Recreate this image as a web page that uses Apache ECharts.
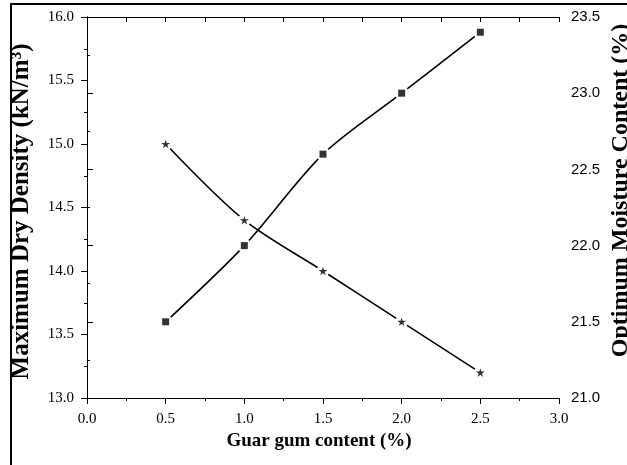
<!DOCTYPE html>
<html>
<head>
<meta charset="utf-8">
<script src="https://cdn.jsdelivr.net/npm/echarts@6/dist/echarts.min.js"></script>
<style>
html, body { margin: 0; padding: 0; background: #fff; }
#main { width: 627px; height: 465px; }
</style>
</head>
<body>
<div id="main"></div>
<script>
// data
var guarGum = [0.5, 1.0, 1.5, 2.0, 2.5];
var maxDryDensity = [15.0, 14.4, 14.0, 13.6, 13.2];   // left axis, stars
var optMoisture = [21.5, 22.0, 22.6, 23.0, 23.4];     // right axis, squares

var starPath = 'path://M0,-100L22.45,-30.9L95.1,-30.9L36.3,11.8L58.8,80.9L0,38.2L-58.8,80.9L-36.3,11.8L-95.1,-30.9L-22.45,-30.9Z';

function pairs(xs, ys) {
	return xs.map(function (x, i) { return [x, ys[i]]; });
}

var serif = '"Liberation Serif", "Times New Roman", serif';
var sans = '"Liberation Sans", Arial, sans-serif';
var fmt1 = function (v) { return v.toFixed(1); };

var chart = echarts.init(document.getElementById('main'));

var option = {
	backgroundColor: '#fff',
	animation: false,
	graphic: [{
		type: 'rect',
		shape: { x: 11, y: 4, width: 700, height: 600 },
		style: { fill: null, stroke: '#000', lineWidth: 2 },
		silent: true
	}],
	grid: { left: 87, right: 68, top: 17, bottom: 67, containLabel: false, outerBoundsMode: 'none' },
	xAxis: [{
		type: 'value',
		position: 'bottom',
		min: 0, max: 3, interval: 0.5,
		name: 'Guar gum content (%)',
		nameLocation: 'middle',
		nameGap: 33,
		nameTextStyle: { fontFamily: serif, fontWeight: 'bold', fontSize: 19, color: '#000', padding: [0, 8, 0, 0] },
		axisLine: { show: true, lineStyle: { color: '#000', width: 1 } },
		axisTick: { show: true, inside: false, length: 6, lineStyle: { color: '#000' } },
		minorTick: { show: true, splitNumber: 2, length: 3, lineStyle: { color: '#000' } },
		axisLabel: { fontFamily: serif, fontSize: 15, color: '#000', margin: 14, formatter: fmt1 },
		splitLine: { show: false }
	}, {
		type: 'value',
		position: 'top',
		min: 0, max: 3, interval: 0.5,
		axisLine: { show: true, lineStyle: { color: '#000', width: 1 } },
		axisTick: { show: true, inside: true, length: 5, lineStyle: { color: '#000' } },
		minorTick: { show: true, splitNumber: 2, length: 5, lineStyle: { color: '#000' } },
		axisLabel: { show: false },
		splitLine: { show: false }
	}],
	yAxis: [{
		type: 'value',
		position: 'left',
		min: 13, max: 16, interval: 0.5,
		name: 'Maximum Dry Density (kN/m³)',
		nameLocation: 'middle',
		nameGap: 53,
		nameTextStyle: { fontFamily: serif, fontWeight: 'bold', fontSize: 25, color: '#000', padding: [0, 8, 0, 0] },
		axisLine: { show: true, lineStyle: { color: '#000', width: 1 } },
		axisTick: { show: true, inside: false, length: 6, lineStyle: { color: '#000' } },
		minorTick: { show: true, splitNumber: 2, length: 3, lineStyle: { color: '#000' } },
		axisLabel: { fontFamily: serif, fontSize: 15, color: '#000', margin: 13, formatter: fmt1 },
		splitLine: { show: false }
	}, {
		type: 'value',
		position: 'right',
		min: 21, max: 23.5, interval: 0.5,
		name: 'Optimum Moisture Content (%)',
		nameLocation: 'middle',
		nameGap: 50,
		nameRotate: 90,
		nameMoveOverlap: false,
		nameTextStyle: { fontFamily: serif, fontWeight: 'bold', fontSize: 24, color: '#000', padding: [0, 0, 0, 34] },
		axisLine: { show: true, lineStyle: { color: '#000', width: 1 } },
		axisTick: { show: true, inside: false, length: 6, lineStyle: { color: '#000' } },
		minorTick: { show: true, splitNumber: 2, length: 3, lineStyle: { color: '#000' } },
		axisLabel: { fontFamily: sans, fontSize: 15, color: '#000', margin: 12, formatter: fmt1 },
		splitLine: { show: false }
	}],
	series: [
		{
			// density line; white dots under the markers leave the small gaps seen in the original
			type: 'line',
			yAxisIndex: 0,
			data: pairs(guarGum, maxDryDensity),
			smooth: 0.3,
			lineStyle: { color: '#000', width: 1.6 },
			symbol: 'circle',
			symbolSize: 13,
			itemStyle: { color: '#fff', borderWidth: 0 },
			z: 2
		},
		{
			type: 'scatter',
			yAxisIndex: 0,
			data: pairs(guarGum, maxDryDensity),
			symbol: starPath,
			symbolKeepAspect: true,
			symbolSize: 9,
			itemStyle: { color: '#000' },
			z: 3
		},
		{
			type: 'line',
			yAxisIndex: 1,
			data: pairs(guarGum, optMoisture),
			smooth: 0.3,
			lineStyle: { color: '#000', width: 1.6 },
			symbol: 'circle',
			symbolSize: 14,
			itemStyle: { color: '#fff', borderWidth: 0 },
			z: 2
		},
		{
			type: 'scatter',
			yAxisIndex: 1,
			data: pairs(guarGum, optMoisture),
			symbol: 'rect',
			symbolSize: 7,
			itemStyle: { color: '#000' },
			z: 3
		}
	]
};

chart.setOption(option);
</script>
</body>
</html>
